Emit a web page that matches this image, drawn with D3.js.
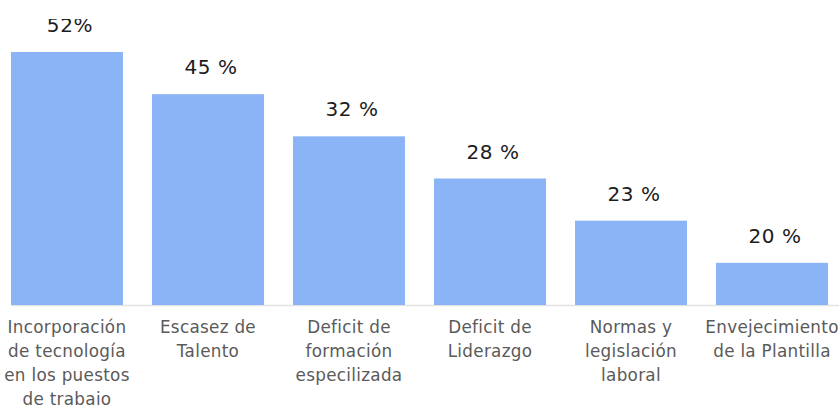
<!DOCTYPE html>
<html>
<head>
<meta charset="utf-8">
<script src="https://cdn.jsdelivr.net/npm/d3@7"></script>
<style>
  body { margin: 0; background: #fff; }
  svg { display: block; }
</style>
</head>
<body>
<svg id="chart" width="839" height="405"></svg>
<script>
// categories, wrapped the same way as in the picture
let categories = [
    ["Incorporación", "de tecnología", "en los puestos", "de trabajo"],
    ["Escasez de", "Talento"],
    ["Deficit de", "formación", "especilizada"],
    ["Deficit de", "Liderazgo"],
    ["Normas y", "legislación", "laboral"],
    ["Envejecimiento", "de la Plantilla"]
]
let percentages = [52, 45, 32, 28, 23, 20]
let value_labels = ["52%", "45 %", "32 %", "28 %", "23 %", "20 %"]
// bar lengths as drawn (the bars step down evenly, not in proportion to the %)
let bar_levels = [6, 5, 4, 3, 2, 1]

const BAR_COLOR = "#8ab4f6"
const WIDTH = 839, HEIGHT = 405

let svg = d3.select("#chart")

// the top of the picture is cropped, cutting into the first value label
svg.append("defs").append("clipPath")
    .attr("id", "cut")
    .append("rect")
    .attr("x", 0).attr("y", 19)
    .attr("width", WIDTH).attr("height", HEIGHT - 19)

let g = svg.append("g").attr("clip-path", "url(#cut)")

let x = d3.scaleBand()
    .domain(d3.range(categories.length))
    .range([-3.1, 842.1])
    .paddingInner(0.206)
    .paddingOuter(0.1)

let y = d3.scaleLinear()
    .domain([0, 6])
    .range([305, 52])

// baseline
g.append("line")
    .attr("x1", x(0))
    .attr("x2", WIDTH)
    .attr("y1", y(0) + 0.5)
    .attr("y2", y(0) + 0.5)
    .attr("stroke", "#e2e2e2")
    .attr("stroke-width", 1.5)

g.selectAll(".bar")
    .data(bar_levels)
    .enter().append("rect")
    .attr("class", "bar")
    .attr("x", (d, i) => x(i))
    .attr("y", d => y(d))
    .attr("width", x.bandwidth())
    .attr("height", d => y(0) - y(d))
    .attr("fill", BAR_COLOR)

g.selectAll(".value")
    .data(bar_levels)
    .enter().append("text")
    .attr("class", "value")
    .attr("x", (d, i) => x(i) + x.bandwidth() / 2 + 3)
    .attr("y", d => y(d) - 20)
    .attr("text-anchor", "middle")
    .attr("font-family", "DejaVu Sans")
    .attr("font-size", 20)
    .attr("letter-spacing", 0.6)
    .attr("fill", "#1c1c1c")
    .text((d, i) => value_labels[i])

// category labels under the bars
let cat = g.selectAll(".cat")
    .data(categories)
    .enter().append("text")
    .attr("class", "cat")
    .attr("text-anchor", "middle")
    .attr("font-family", "DejaVu Sans")
    .attr("font-size", 16.8)
    .attr("letter-spacing", 0.3)
    .attr("fill", "#5a5a5a")

cat.selectAll("tspan")
    .data((d, i) => d.map(line => ({ line: line, i: i })))
    .enter().append("tspan")
    .attr("x", d => x(d.i) + x.bandwidth() / 2)
    .attr("y", (d, j) => 333 + j * 24)
    .text(d => d.line)
</script>
</body>
</html>
